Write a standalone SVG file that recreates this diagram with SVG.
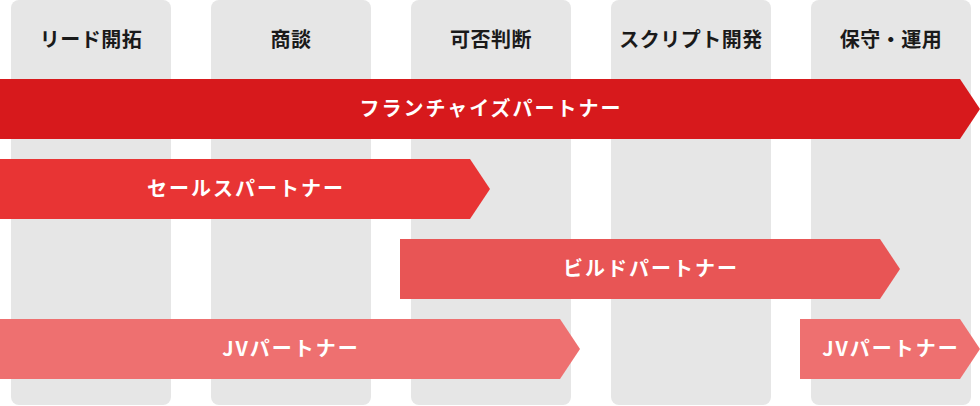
<svg xmlns="http://www.w3.org/2000/svg" width="980" height="406" viewBox="0 0 980 406">
<style>
.col{fill:#e6e6e6}
.hd{font-family:"Noto Sans CJK JP","Noto Sans",sans-serif;font-size:20px;font-weight:700;fill:#1a1a1a;text-anchor:middle;letter-spacing:0.5px}
.lb{font-family:"Noto Sans CJK JP","Noto Sans",sans-serif;font-size:20px;font-weight:700;fill:#ffffff;text-anchor:middle;letter-spacing:2px}
</style>
<rect width="980" height="406" fill="#ffffff"/>
<g id="col-lead"><rect class="col" x="11" y="0" width="160" height="405" rx="8"/><text class="hd" x="91" y="47">リード開拓</text></g>
<g id="col-negotiation"><rect class="col" x="211" y="0" width="160" height="405" rx="8"/><text class="hd" x="291" y="47">商談</text></g>
<g id="col-decision"><rect class="col" x="411" y="0" width="160" height="405" rx="8"/><text class="hd" x="491" y="47">可否判断</text></g>
<g id="col-script"><rect class="col" x="611" y="0" width="160" height="405" rx="8"/><text class="hd" x="691" y="47">スクリプト開発</text></g>
<g id="col-ops"><rect class="col" x="811" y="0" width="160" height="405" rx="8"/><text class="hd" x="891" y="47">保守・運用</text></g>
<g id="connectors">
<g id="franchise"><polygon points="0,79 960,79 980,109 960,139 0,139" fill="#d7191c"/><text class="lb" x="491" y="116">フランチャイズパートナー</text></g>
<g id="sales"><polygon points="0,159 470,159 490,189 470,219 0,219" fill="#e83434"/><text class="lb" x="246" y="196">セールスパートナー</text></g>
<g id="build"><polygon points="400,239 880,239 900,269 880,299 400,299" fill="#e85555"/><text class="lb" x="651" y="276">ビルドパートナー</text></g>
<g id="jv1"><polygon points="0,319 560,319 580,349 560,379 0,379" fill="#ee7070"/><text class="lb" x="291" y="356">JVパートナー</text></g>
<g id="jv2"><polygon points="800,319 960,319 980,349 960,379 800,379" fill="#ee7070"/><text class="lb" x="891" y="356">JVパートナー</text></g>
</g>
</svg>
